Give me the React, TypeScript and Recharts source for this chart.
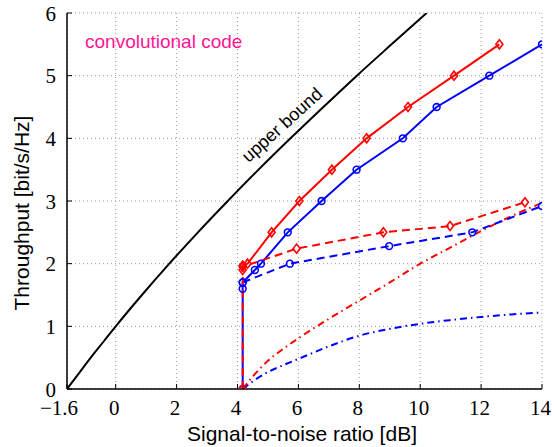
import { LineChart, Line, XAxis, YAxis, CartesianGrid } from "recharts";

const xTicks = [-1.6, 0, 2, 4, 6, 8, 10, 12, 14];
const yTicks = [0, 1, 2, 3, 4, 5, 6];

// upper bound (Eb/N0 in dB vs rate)
const boundX = [-1.6, -1.21, -0.82, -0.41, 0, 0.86, 1.76, 2.7, 3.68, 4.69, 5.74, 6.82, 7.92, 9.06, 10.21];
const boundY = [0, 0.25, 0.5, 0.75, 1, 1.5, 2, 2.5, 3, 3.5, 4, 4.5, 5, 5.5, 6];

const redSolidX = [4.17, 4.17, 4.33, 5.12, 6.03, 7.1, 8.24, 9.6, 11.11, 12.6];
const redSolidY = [1.9, 1.97, 2.0, 2.5, 3.0, 3.5, 4.0, 4.5, 5.0, 5.5];

const blueSolidX = [4.17, 4.17, 4.17, 4.57, 4.77, 5.65, 6.76, 7.91, 9.43, 10.54, 12.27, 14];
const blueSolidY = [0, 1.6, 1.7, 1.9, 2.0, 2.5, 3.0, 3.5, 4.0, 4.5, 5.0, 5.5];

const redDashX = [4.17, 4.17, 5.94, 8.79, 10.98, 13.44];
const redDashY = [0, 1.95, 2.24, 2.5, 2.6, 2.98];

const blueDashX = [4.17, 5.72, 8.98, 11.71, 14];
const blueDashY = [1.7, 2.0, 2.28, 2.5, 2.92];

const redDotDashX = [4.17, 4.5, 5, 5.5, 6, 7, 8, 9, 10, 11, 12, 13, 14];
const redDotDashY = [0, 0.2, 0.45, 0.64, 0.81, 1.12, 1.41, 1.7, 2.0, 2.26, 2.52, 2.76, 2.97];

const blueDotDashX = [4.17, 4.5, 5, 5.5, 6, 7, 8, 9, 10, 11, 12, 13, 14];
const blueDotDashY = [0, 0.12, 0.27, 0.38, 0.48, 0.68, 0.85, 0.96, 1.04, 1.1, 1.15, 1.19, 1.22];

const zip = (xs: number[], ys: number[]) => xs.map((x, i) => ({ x, y: ys[i] }));

const RED = "#ff0000";
const BLUE = "#0000ff";
const SANS = "'Liberation Sans', Arial, sans-serif";
const SERIF = "'Liberation Serif', 'Times New Roman', Times, serif";

const diamond = (props: any) => {
  const { cx, cy, key } = props;
  return (
    <path
      key={key}
      d={`M${cx},${cy - 4.5} L${cx + 3.5},${cy} L${cx},${cy + 4.5} L${cx - 3.5},${cy} Z`}
      fill="none"
      stroke={RED}
      strokeWidth={1.6}
    />
  );
};

const circle = (props: any) => {
  const { cx, cy, key } = props;
  return <circle key={key} cx={cx} cy={cy} r={3.4} fill="none" stroke={BLUE} strokeWidth={1.6} />;
};

const xTick = (props: any) => {
  const v = props.payload.value;
  const label = v < 0 ? "\u2212" + Math.abs(v) : String(v);
  const dx = v < 0 ? -8 : -1.5;
  return (
    <text x={props.x + dx} y={415} textAnchor="middle" style={{ fontFamily: SERIF, fontSize: 21 }} fill="#000">
      {label}
    </text>
  );
};

const yTick = (props: any) => (
  <text x={56} y={props.y + 7.5} textAnchor="end" style={{ fontFamily: SERIF, fontSize: 21 }} fill="#000">
    {props.payload.value}
  </text>
);

export default function App() {
  return (
    <div style={{ position: "absolute", left: 0, top: 0, width: 554, height: 447, background: "#fff" }}>
      <LineChart width={554} height={447} margin={{ top: 13, right: 12, left: 0, bottom: 0 }}>
        <CartesianGrid stroke="#9a9a9a" strokeDasharray="1 3" strokeWidth={1} />
        <XAxis
          xAxisId={0}
          type="number"
          dataKey="x"
          domain={[-1.6, 14]}
          ticks={xTicks}
          allowDataOverflow
          height={58}
          tickSize={-5}
          tick={xTick}
          axisLine={{ stroke: "#000", strokeWidth: 1.5 }}
          tickLine={{ stroke: "#000" }}
        />
        <XAxis
          xAxisId="top"
          orientation="top"
          type="number"
          domain={[-1.6, 14]}
          ticks={xTicks}
          allowDataOverflow
          height={0}
          tickSize={-5}
          tick={false}
          axisLine={{ stroke: "#000", strokeWidth: 1.5 }}
          tickLine={{ stroke: "#000" }}
        />
        <YAxis
          yAxisId={0}
          type="number"
          dataKey="y"
          domain={[0, 6]}
          ticks={yTicks}
          allowDataOverflow
          width={67}
          tickSize={-5}
          tick={yTick}
          axisLine={{ stroke: "#000", strokeWidth: 1.5 }}
          tickLine={{ stroke: "#000" }}
        />
        <YAxis
          yAxisId="right"
          orientation="right"
          type="number"
          domain={[0, 6]}
          ticks={yTicks}
          allowDataOverflow
          width={0}
          tickSize={-5}
          tick={false}
          axisLine={{ stroke: "#000", strokeWidth: 1.5 }}
          tickLine={{ stroke: "#000" }}
        />
        <Line data={zip(boundX, boundY)} dataKey="y" type="monotone" stroke="#000" strokeWidth={2} dot={false} isAnimationActive={false} />
        <Line data={zip(blueDotDashX, blueDotDashY)} dataKey="y" type="monotone" stroke={BLUE} strokeWidth={2} strokeDasharray="7 4 1.5 4" dot={false} isAnimationActive={false} />
        <Line data={zip(redDotDashX, redDotDashY)} dataKey="y" type="monotone" stroke={RED} strokeWidth={2} strokeDasharray="7 4 1.5 4" dot={false} isAnimationActive={false} />
        <Line data={zip(blueSolidX, blueSolidY)} dataKey="y" type="linear" stroke={BLUE} strokeWidth={2} dot={circle} isAnimationActive={false} />
        <Line data={zip(blueDashX, blueDashY)} dataKey="y" type="linear" stroke={BLUE} strokeWidth={2} strokeDasharray="8 5" dot={circle} isAnimationActive={false} />
        <Line data={zip(redSolidX, redSolidY)} dataKey="y" type="linear" stroke={RED} strokeWidth={2} dot={diamond} isAnimationActive={false} />
        <Line data={zip(redDashX, redDashY)} dataKey="y" type="linear" stroke={RED} strokeWidth={2} strokeDasharray="8 5" dot={diamond} isAnimationActive={false} />
      </LineChart>
      <svg width={554} height={447} style={{ position: "absolute", left: 0, top: 0, pointerEvents: "none" }}>
        <text x={85} y={48} style={{ fontFamily: SANS, fontSize: 19 }} fill="#ff1493">
          convolutional code
        </text>
        <text
          transform="translate(282,125) rotate(-42)"
          textAnchor="middle"
          dominantBaseline="central"
          style={{ fontFamily: SANS, fontSize: 18 }}
          fill="#000"
        >
          upper bound
        </text>
        <text x={302} y={441} textAnchor="middle" style={{ fontFamily: SANS, fontSize: 21 }} fill="#000">
          Signal-to-noise ratio [dB]
        </text>
        <text transform="translate(29,213) rotate(-90)" textAnchor="middle" style={{ fontFamily: SANS, fontSize: 21 }} fill="#000">
          Throughput [bit/s/Hz]
        </text>
      </svg>
    </div>
  );
}
